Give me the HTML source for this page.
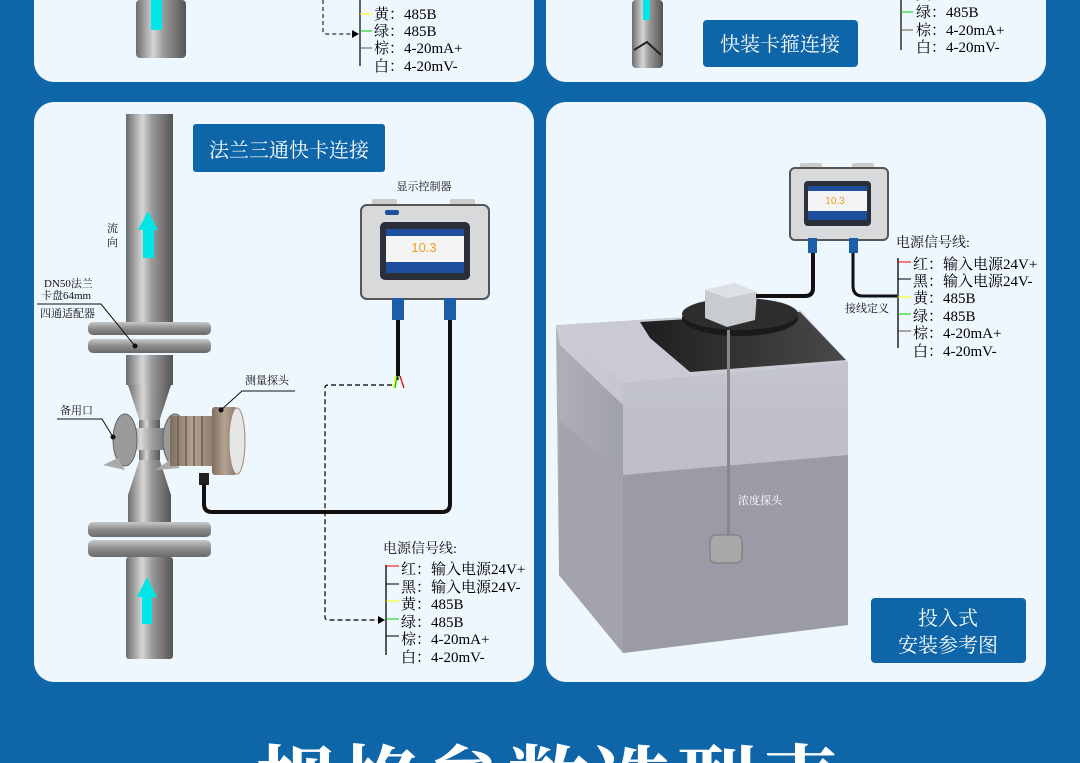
<!DOCTYPE html>
<html><head><meta charset="utf-8"><style>
html,body{margin:0;padding:0;width:1080px;height:763px;overflow:hidden;}
body{background:#0e66a8;position:relative;font-family:"Liberation Serif","Noto Serif CJK SC",serif;}
svg{position:absolute;left:0;top:0;}
.clip{position:absolute;left:0;top:735px;width:1080px;height:28px;overflow:hidden;}
.big{position:absolute;left:255px;top:10px;font-size:82px;font-weight:bold;color:#fff;letter-spacing:2px;line-height:1;white-space:nowrap;font-family:"Liberation Serif","Noto Serif CJK SC",serif;}
</style></head><body>
<svg width="1080" height="763" viewBox="0 0 1080 763" font-family="Liberation Serif, Noto Serif CJK SC, serif">
<defs>
<linearGradient id="pipe" x1="0" x2="1" y1="0" y2="0">
<stop offset="0" stop-color="#6d6d6d"/><stop offset="0.35" stop-color="#d6d6d6"/><stop offset="0.55" stop-color="#9a9a9a"/><stop offset="1" stop-color="#555"/></linearGradient>
<linearGradient id="flg" x1="0" x2="0" y1="0" y2="1">
<stop offset="0" stop-color="#c9c9c9"/><stop offset="0.5" stop-color="#8c8c8c"/><stop offset="1" stop-color="#6a6a6a"/></linearGradient>
<linearGradient id="probe" x1="0" x2="1"><stop offset="0" stop-color="#7d6e60"/><stop offset="0.5" stop-color="#b3a292"/><stop offset="1" stop-color="#8b7a6a"/></linearGradient>
<linearGradient id="tankF" x1="0" x2="0" y1="0" y2="1"><stop offset="0" stop-color="#c4c5d0"/><stop offset="1" stop-color="#a5a6b2"/></linearGradient>
<linearGradient id="tankL" x1="0" x2="1"><stop offset="0" stop-color="#aeafbb"/><stop offset="1" stop-color="#a0a1ad"/></linearGradient>
<linearGradient id="inner" x1="0" x2="1"><stop offset="0" stop-color="#1e1e1e"/><stop offset="1" stop-color="#4a4a4a"/></linearGradient>
</defs>
<rect x="34" y="-30" width="500" height="112" rx="20" fill="#eef6fe"/>
<rect x="546" y="-30" width="500" height="112" rx="20" fill="#eef6fe"/>
<rect x="34" y="102" width="500" height="580" rx="20" fill="#eef6fe"/>
<rect x="546" y="102" width="500" height="580" rx="20" fill="#eef6fe"/>

<rect x="136" y="0" width="50" height="58" rx="4" fill="url(#pipe)"/>
<rect x="151" y="0" width="11" height="30" fill="#00e5e5"/>
<line x1="360" y1="0" x2="360" y2="66" stroke="#000" stroke-width="1.2"/>
<path d="M323 0 V31 Q323 34 326 34 H352" fill="none" stroke="#000" stroke-dasharray="4,3" stroke-width="1"/>
<path d="M352 30 L359 34 L352 38Z" fill="#000"/>
<line x1="360" y1="14" x2="372" y2="14" stroke="#ff0"/>
<line x1="360" y1="31" x2="372" y2="31" stroke="#0c0"/>
<line x1="360" y1="48" x2="372" y2="48" stroke="#654"/>
<g font-size="15" fill="#000">
<text x="374" y="-2">黑：输入电源24V+</text>
<text x="374" y="19">黄：485B</text>
<text x="374" y="36">绿：485B</text>
<text x="374" y="53">棕：4-20mA+</text>
<text x="374" y="71">白：4-20mV-</text>
</g>

<rect x="632" y="0" width="31" height="68" rx="4" fill="url(#pipe)"/>
<rect x="643" y="0" width="7" height="20" fill="#00e5e5"/>
<path d="M634 50 L647 42 L661 55" stroke="#222" stroke-width="2" fill="none"/>
<rect x="703" y="20" width="155" height="47" rx="4" fill="#0e66a8"/>
<text x="780" y="51" font-size="20" fill="#fff" text-anchor="middle">快装卡箍连接</text>
<line x1="901" y1="0" x2="901" y2="50" stroke="#000" stroke-width="1.2"/>
<line x1="901" y1="12" x2="913" y2="12" stroke="#0c0"/>
<line x1="901" y1="30" x2="913" y2="30" stroke="#654"/>
<g font-size="15" fill="#000">
<text x="916" y="-1">黄：485B</text>
<text x="916" y="17">绿：485B</text>
<text x="916" y="35">棕：4-20mA+</text>
<text x="916" y="52">白：4-20mV-</text>
</g>

<rect x="193" y="124" width="192" height="48" rx="3" fill="#0e66a8"/>
<text x="289" y="157" font-size="20" fill="#fff" text-anchor="middle">法兰三通快卡连接</text>
<rect x="126" y="114" width="47" height="210" fill="url(#pipe)"/>
<rect x="126" y="355" width="47" height="30" fill="url(#pipe)"/>
<path d="M128 385 H171 L158 425 H141Z" fill="url(#pipe)"/>
<path d="M141 455 H158 L171 495 H128Z" fill="url(#pipe)"/>
<rect x="139" y="420" width="21" height="40" fill="url(#pipe)"/>
<rect x="128" y="495" width="43" height="28" fill="url(#pipe)"/>
<rect x="126" y="557" width="47" height="102" rx="3" fill="url(#pipe)"/>
<rect x="88" y="322" width="123" height="13" rx="5" fill="url(#flg)"/>
<rect x="88" y="339" width="123" height="14" rx="5" fill="url(#flg)"/>
<rect x="88" y="522" width="123" height="15" rx="5" fill="url(#flg)"/>
<rect x="88" y="540" width="123" height="17" rx="5" fill="url(#flg)"/>
<rect x="143" y="228" width="11" height="30" fill="#00e5e5"/>
<path d="M138 230 L148 211 L158 230Z" fill="#00e5e5"/>
<rect x="142" y="595" width="10" height="29" fill="#00e5e5"/>
<path d="M137 597 L147 577 L157 597Z" fill="#00e5e5"/>
<rect x="120" y="428" width="60" height="22" fill="url(#pipe)"/>
<ellipse cx="125" cy="440" rx="12" ry="26" fill="#9a9a9a" stroke="#666"/>
<ellipse cx="175" cy="440" rx="12" ry="26" fill="#9a9a9a" stroke="#666"/>
<path d="M103 465 L118 458 L125 470Z" fill="#aaa"/>
<path d="M155 470 L170 460 L180 468Z" fill="#aaa"/>
<rect x="170" y="416" width="45" height="50" fill="url(#probe)"/>
<g stroke="#6a5d50" stroke-width="1.5"><line x1="178" y1="416" x2="178" y2="466"/><line x1="186" y1="416" x2="186" y2="466"/><line x1="194" y1="416" x2="194" y2="466"/><line x1="202" y1="416" x2="202" y2="466"/></g>
<rect x="212" y="407" width="25" height="68" rx="3" fill="url(#probe)"/>
<ellipse cx="237" cy="441" rx="8" ry="33" fill="#e6e6e6" stroke="#9a8a7a"/>
<rect x="199" y="473" width="10" height="12" fill="#222"/>
<path d="M204 484 V504 Q204 512 212 512 H442 Q450 512 450 504 V320" fill="none" stroke="#111" stroke-width="4"/>
<line x1="398" y1="320" x2="398" y2="380" stroke="#111" stroke-width="4"/>
<g stroke-width="1.3" fill="none"><path d="M393 388 L396 376" stroke="#ff0"/><path d="M395 388 L397 376" stroke="#0c0"/><path d="M400 388 L399 376" stroke="#fff"/><path d="M404 388 L400 376" stroke="#e00"/></g>
<path d="M392 385 H328 Q325 385 325 388 V617 Q325 620 328 620 H378" fill="none" stroke="#000" stroke-dasharray="5,3" stroke-width="1.2"/>
<path d="M378 616 L385 620 L378 624Z" fill="#000"/>
<text x="424" y="190" font-size="11" fill="#111" text-anchor="middle">显示控制器</text>
<rect x="372" y="199" width="25" height="8" rx="2" fill="#ccc"/>
<rect x="450" y="199" width="25" height="8" rx="2" fill="#ccc"/>
<rect x="361" y="205" width="128" height="94" rx="6" fill="#d8d9db" stroke="#555" stroke-width="2"/>
<rect x="380" y="222" width="90" height="58" rx="5" fill="#2a2f3a"/>
<rect x="386" y="229" width="78" height="44" fill="#f4f4f4"/>
<rect x="386" y="229" width="78" height="7" fill="#1d4f9c"/>
<rect x="386" y="262" width="78" height="11" fill="#1d4f9c"/>
<text x="424" y="252" font-size="13" fill="#f0a020" text-anchor="middle" font-family="Liberation Sans, sans-serif">10.3</text>
<rect x="385" y="210" width="14" height="5" rx="2" fill="#1d4f9c"/>
<rect x="392" y="298" width="12" height="22" fill="#1d5ea8"/>
<rect x="444" y="298" width="12" height="22" fill="#1d5ea8"/>
<g font-size="11" fill="#111">
<text x="107" y="232">流</text><text x="107" y="246">向</text>
<text x="44" y="287">DN50法兰</text>
<text x="41" y="299">卡盘64mm</text>
<text x="40" y="317">四通适配器</text>
<text x="60" y="414">备用口</text>
<text x="245" y="384">测量探头</text>
</g>
<g stroke="#111" stroke-width="1" fill="none">
<path d="M37 304 H101 L135 346"/>
<path d="M57 419 H102 L113 437"/>
<path d="M295 391 H242 L221 410"/>
</g>
<circle cx="135" cy="346" r="2.5" fill="#111"/><circle cx="113" cy="437" r="2.5" fill="#111"/><circle cx="221" cy="410" r="2.5" fill="#111"/>
<text x="383" y="553" font-size="14" fill="#111">电源信号线:</text>
<line x1="386" y1="565" x2="386" y2="655" stroke="#000" stroke-width="1.3"/>
<line x1="386" y1="566" x2="399" y2="566" stroke="#e00"/>
<line x1="386" y1="584" x2="399" y2="584" stroke="#000"/>
<line x1="386" y1="601" x2="399" y2="601" stroke="#ff0"/>
<line x1="386" y1="619" x2="399" y2="619" stroke="#0c0"/>
<line x1="386" y1="636" x2="399" y2="636" stroke="#000"/>
<g font-size="15" fill="#000">
<text x="401" y="574">红：输入电源24V+</text>
<text x="401" y="592">黑：输入电源24V-</text>
<text x="401" y="609">黄：485B</text>
<text x="401" y="627">绿：485B</text>
<text x="401" y="644">棕：4-20mA+</text>
<text x="401" y="662">白：4-20mV-</text>
</g>

<polygon points="556,325 623,382 623,653 559,575" fill="url(#tankL)"/>
<polygon points="623,382 848,362 848,625 623,653" fill="url(#tankF)"/>
<polygon points="556,325 800,310 848,362 623,382" fill="#c9cad3"/>
<polygon points="640,322 800,312 846,360 690,372 650,338" fill="url(#inner)"/>
<polygon points="556,325 623,382 623,405 560,345" fill="#dfe0e6" opacity="0.6"/>
<polygon points="623,405 848,385 848,455 623,475" fill="#c0c1cc" opacity="0.7"/>
<polygon points="623,475 848,455 848,625 623,653" fill="#9a9ba7"/>
<polygon points="559,420 623,475 623,653 559,575" fill="#a2a3af"/>
<ellipse cx="740" cy="318" rx="58" ry="18" fill="#1a1a1a"/>
<ellipse cx="740" cy="314" rx="58" ry="16" fill="#2d2d2d"/>
<polygon points="705,290 735,283 757,292 755,320 727,327 705,318" fill="#c8cbd0"/>
<polygon points="705,290 735,283 757,292 727,298" fill="#dde0e4"/>
<rect x="727" y="330" width="3" height="205" fill="#888"/>
<rect x="710" y="535" width="32" height="28" rx="6" fill="#a8a8a8" stroke="#777"/>
<text x="738" y="504" font-size="11" fill="#fff">浓度探头</text>
<rect x="800" y="163" width="22" height="7" rx="2" fill="#ccc"/>
<rect x="852" y="163" width="22" height="7" rx="2" fill="#ccc"/>
<rect x="790" y="168" width="98" height="72" rx="5" fill="#d8d9db" stroke="#555" stroke-width="2"/>
<rect x="804" y="181" width="67" height="45" rx="4" fill="#2a2f3a"/>
<rect x="808" y="186" width="59" height="34" fill="#f4f4f4"/>
<rect x="808" y="186" width="59" height="5" fill="#1d4f9c"/>
<rect x="808" y="211" width="59" height="9" fill="#1d4f9c"/>
<text x="835" y="204" font-size="10" fill="#f0a020" text-anchor="middle" font-family="Liberation Sans, sans-serif">10.3</text>
<rect x="808" y="238" width="9" height="15" fill="#1d5ea8"/>
<rect x="849" y="238" width="9" height="15" fill="#1d5ea8"/>
<path d="M813 253 V288 Q813 296 805 296 H756" fill="none" stroke="#111" stroke-width="4"/>
<path d="M853 253 V286 Q853 296 863 296 H897" fill="none" stroke="#111" stroke-width="3"/>
<text x="845" y="312" font-size="11" fill="#111">接线定义</text>
<text x="896" y="247" font-size="14" fill="#111">电源信号线:</text>
<line x1="898" y1="258" x2="898" y2="348" stroke="#000" stroke-width="1.3"/>
<line x1="898" y1="262" x2="911" y2="262" stroke="#e00"/>
<line x1="898" y1="279" x2="911" y2="279" stroke="#000"/>
<line x1="898" y1="297" x2="911" y2="297" stroke="#ff0"/>
<line x1="898" y1="314" x2="911" y2="314" stroke="#0c0"/>
<line x1="898" y1="331" x2="911" y2="331" stroke="#654"/>
<g font-size="15" fill="#000">
<text x="913" y="269">红：输入电源24V+</text>
<text x="913" y="286">黑：输入电源24V-</text>
<text x="913" y="303">黄：485B</text>
<text x="913" y="321">绿：485B</text>
<text x="913" y="338">棕：4-20mA+</text>
<text x="913" y="356">白：4-20mV-</text>
</g>
<rect x="871" y="598" width="155" height="65" rx="4" fill="#0e66a8"/>
<text x="948" y="625" font-size="20" fill="#fff" text-anchor="middle">投入式</text>
<text x="948" y="652" font-size="20" fill="#fff" text-anchor="middle">安装参考图</text>
</svg>
<div class="clip"><div class="big">规格参数选型表</div></div>
</body></html>
